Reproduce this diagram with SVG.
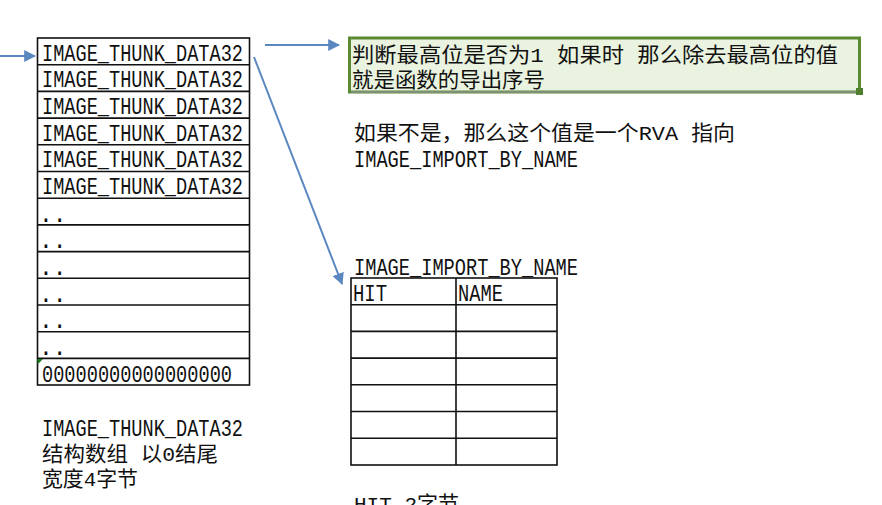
<svg xmlns="http://www.w3.org/2000/svg" width="882" height="505" viewBox="0 0 882 505">
<style>
  .mono { font-family: "Liberation Mono", "Noto Sans CJK SC", monospace; font-size: 23px; fill: #111; }
  .cjk { font-family: "Liberation Mono", "Noto Sans CJK SC", sans-serif; font-size: 21px; fill: #111; }
  .grid { stroke: #111; stroke-width: 1.6; fill: none; }
  .conn { stroke: #5b87c0; stroke-width: 2; fill: none; }
</style>
<defs>
  <marker id="ah" viewBox="0 0 10 10" refX="9" refY="5" markerWidth="6" markerHeight="6" orient="auto" markerUnits="strokeWidth">
    <path d="M0,0 L10,5 L0,10 z" fill="#5b87c0"/>
  </marker>
</defs>
<rect width="882" height="505" fill="#ffffff"/>

<g id="thunk-array">
  <rect class="grid" x="37.5" y="38" width="212" height="347"/>
  <path class="grid" d="M37.5,64.7H249.5M37.5,91.4H249.5M37.5,118.1H249.5M37.5,144.8H249.5M37.5,171.5H249.5M37.5,198.2H249.5M37.5,224.9H249.5M37.5,251.6H249.5M37.5,278.3H249.5M37.5,305H249.5M37.5,331.7H249.5M37.5,358.4H249.5"/>
  <text class="mono" x="42" y="60.5" textLength="201" lengthAdjust="spacingAndGlyphs">IMAGE_THUNK_DATA32</text>
  <text class="mono" x="42" y="87.2" textLength="201" lengthAdjust="spacingAndGlyphs">IMAGE_THUNK_DATA32</text>
  <text class="mono" x="42" y="113.9" textLength="201" lengthAdjust="spacingAndGlyphs">IMAGE_THUNK_DATA32</text>
  <text class="mono" x="42" y="140.6" textLength="201" lengthAdjust="spacingAndGlyphs">IMAGE_THUNK_DATA32</text>
  <text class="mono" x="42" y="167.3" textLength="201" lengthAdjust="spacingAndGlyphs">IMAGE_THUNK_DATA32</text>
  <text class="mono" x="42" y="194" textLength="201" lengthAdjust="spacingAndGlyphs">IMAGE_THUNK_DATA32</text>
  <text class="mono" x="39" y="221.5">..</text>
  <text class="mono" x="39" y="248.2">..</text>
  <text class="mono" x="39" y="274.9">..</text>
  <text class="mono" x="39" y="301.6">..</text>
  <text class="mono" x="39" y="328.3">..</text>
  <text class="mono" x="39" y="355">..</text>
  <text class="mono" x="42" y="382" textLength="190" lengthAdjust="spacingAndGlyphs">00000000000000000</text>
  <path d="M37.5,359 L43,359 L37.5,364.5 z" fill="#1a7a1a"/>
</g>

<g id="thunk-caption">
  <text class="mono" x="42" y="435.5" textLength="201" lengthAdjust="spacingAndGlyphs">IMAGE_THUNK_DATA32</text>
  <text class="cjk" x="42" y="461" textLength="176" lengthAdjust="spacingAndGlyphs">结构数组 以0结尾</text>
  <text class="cjk" x="42" y="486" textLength="96" lengthAdjust="spacingAndGlyphs">宽度4字节</text>
</g>

<g id="ordinal-note">
  <rect x="349.5" y="38" width="510" height="54" fill="#e9f3df" stroke="#5a8a32" stroke-width="3"/>
  <line x1="351" y1="92" x2="856" y2="92" stroke="#7f8f7a" stroke-width="2"/>
  <rect x="856" y="88" width="7" height="7" fill="#4e7f2c"/>
  <text class="cjk" x="352" y="61.5" font-size="23" textLength="486" lengthAdjust="spacingAndGlyphs">判断最高位是否为1  如果时  那么除去最高位的值</text>
  <text class="cjk" x="352" y="87" font-size="23" textLength="193" lengthAdjust="spacingAndGlyphs">就是函数的导出序号</text>
</g>

<g id="rva-note">
  <text class="cjk" x="354" y="139.5" textLength="381" lengthAdjust="spacingAndGlyphs">如果不是，那么这个值是一个RVA 指向</text>
  <text class="mono" x="354" y="166.5" textLength="224" lengthAdjust="spacingAndGlyphs">IMAGE_IMPORT_BY_NAME</text>
</g>

<g id="import-by-name">
  <text class="mono" x="354" y="274.5" textLength="224" lengthAdjust="spacingAndGlyphs">IMAGE_IMPORT_BY_NAME</text>
  <rect class="grid" x="351" y="278" width="206" height="187"/>
  <path class="grid" d="M456,278V465M351,304.7H557M351,331.4H557M351,358.1H557M351,384.8H557M351,411.5H557M351,438.2H557"/>
  <text class="mono" x="353" y="300.5" textLength="34" lengthAdjust="spacingAndGlyphs">HIT</text>
  <text class="mono" x="458" y="300.5" textLength="45" lengthAdjust="spacingAndGlyphs">NAME</text>
</g>

<g id="hit-note">
  <text class="cjk" x="354" y="511">HIT 2字节</text>
</g>

<g id="connectors">
  <line class="conn" x1="0" y1="56" x2="35" y2="56" marker-end="url(#ah)"/>
  <line class="conn" x1="265" y1="45" x2="339" y2="45" marker-end="url(#ah)"/>
  <line class="conn" x1="254" y1="57" x2="342" y2="284" marker-end="url(#ah)"/>
</g>
</svg>
